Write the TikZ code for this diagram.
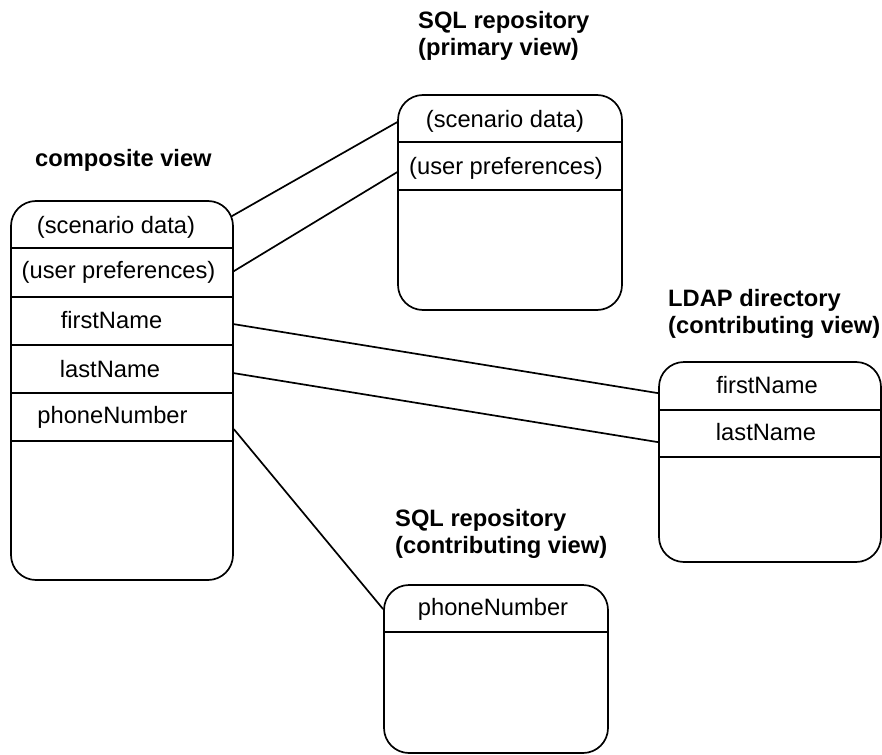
\documentclass[tikz,border=0pt]{standalone}
\usepackage{fontspec}
\setmainfont{Liberation Sans}
\usetikzlibrary{calc}
\begin{document}
\begin{tikzpicture}[x=1pt,y=-1pt,
  box/.style={draw, line width=1.7pt, rounded corners=25pt, inner sep=0pt},
  rule/.style={line width=1.7pt},
  link/.style={line width=1.7pt},
  field/.style={anchor=base, inner sep=0pt, font=\fontsize{23.7}{28}\selectfont},
  title/.style={anchor=base west, inner sep=0pt, font=\fontsize{23.7}{28}\selectfont\bfseries}]

% canvas
\fill[white] (0,0) rectangle (882,754);
\useasboundingbox (0,0) rectangle (882,754);

% views
\node[box, minimum width=222pt, minimum height=379pt] (comp)  at (122,390.5) {};
\node[box, minimum width=224pt, minimum height=215pt] (prim)  at (510,202.5) {};
\node[box, minimum width=222pt, minimum height=200pt] (ldap)  at (770,462) {};
\node[box, minimum width=224pt, minimum height=168pt] (phone) at (496,669) {};

% row separators
\foreach \d in {48,97,145,193,241}
  \draw[rule] ($(comp.north west)+(0,\d)$) -- ($(comp.north east)+(0,\d)$);
\foreach \d in {48,96}
  \draw[rule] ($(prim.north west)+(0,\d)$) -- ($(prim.north east)+(0,\d)$);
\foreach \d in {49,96}
  \draw[rule] ($(ldap.north west)+(0,\d)$) -- ($(ldap.north east)+(0,\d)$);
\draw[rule] ($(phone.north west)+(0,48)$) -- ($(phone.north east)+(0,48)$);

% titles
\node[title] (tcomp)   at (35,166)  {composite view};
\node[title] (tprim1)  at (418,29)  {SQL repository};
\node[title] (tprim2)  at (418,56)  {(primary view)};
\node[title] (tldap1)  at (668,306) {LDAP directory};
\node[title] (tldap2)  at (668,333) {(contributing view)};
\node[title] (tphone1) at (395,526) {SQL repository};
\node[title] (tphone2) at (395,553) {(contributing view)};

% composite view fields
\node[field] (cscen)  at (116,233)   {(scenario data)};
\node[field] (cpref)  at (118.5,278) {(user preferences)};
\node[field] (cfirst) at (111.5,328) {firstName};
\node[field] (clast)  at (110,377)   {lastName};
\node[field] (cphone) at (112.5,423) {phoneNumber};

% primary view fields
\node[field] (pscen) at (505,128) {(scenario data)};
\node[field] (ppref) at (506,175) {(user preferences)};

% LDAP fields
\node[field] (lfirst) at (767,393) {firstName};
\node[field] (llast)  at (766,440) {lastName};

% SQL contributing field
\node[field] (sphone) at (493,615) {phoneNumber};

% mappings
\draw[link] ($(comp.north east)+(-2,16)$)  -- ($(prim.north west)+(0,28)$);
\draw[link] ($(comp.north east)+(0,71)$)   -- ($(prim.north west)+(0,78)$);
\draw[link] ($(comp.north east)+(0,124)$)  -- ($(ldap.north west)+(0,32)$);
\draw[link] ($(comp.north east)+(0,173)$)  -- ($(ldap.north west)+(0,81)$);
\draw[link] ($(comp.north east)+(0,229)$)  -- ($(phone.north west)+(0,25)$);
\end{tikzpicture}
\end{document}
